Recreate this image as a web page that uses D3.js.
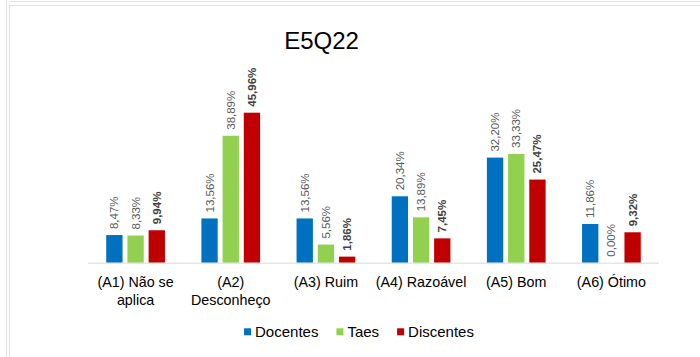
<!DOCTYPE html>
<html><head><meta charset="utf-8">
<script src="https://cdn.jsdelivr.net/npm/d3@7"></script>
<style>html,body{margin:0;padding:0;background:#fff;}svg{display:block;font-family:"Liberation Sans",Arial,sans-serif;}</style>
</head><body>
<svg id="chart" width="700" height="357"></svg>
<script>
const categories = ["(A1) Não se aplica","(A2) Desconheço","(A3) Ruim","(A4) Razoável","(A5) Bom","(A6) Ótimo"];
const categoryLines = [["(A1) Não se","aplica"],["(A2)","Desconheço"],["(A3) Ruim"],["(A4) Razoável"],["(A5) Bom"],["(A6) Ótimo"]];
const seriesNames = ["Docentes","Taes","Discentes"];
const docentes = [8.47,13.56,13.56,20.34,32.20,11.86];
const taes = [8.33,38.89,5.56,13.89,33.33,0.00];
const discentes = [9.94,45.96,1.86,7.45,25.47,9.32];
const seriesValues = [docentes, taes, discentes];
const colors = ["#0070C0","#92D050","#C00000"];
const title = "E5Q22";

const svg = d3.select("#chart");
svg.append("rect").attr("width",700).attr("height",357).attr("fill","#fff");

// frame lines
const fc = "#e3e3e3";
svg.append("line").attr("x1",9).attr("x2",700).attr("y1",1.5).attr("y2",1.5).attr("stroke",fc);
svg.append("line").attr("x1",10).attr("x2",700).attr("y1",5.5).attr("y2",5.5).attr("stroke",fc);
svg.append("line").attr("x1",6.5).attr("x2",6.5).attr("y1",0).attr("y2",357).attr("stroke",fc);
svg.append("line").attr("x1",9.5).attr("x2",9.5).attr("y1",5).attr("y2",357).attr("stroke",fc);

const x0 = d3.scaleBand().domain(categories).range([88,659]).padding(0);
const x1 = d3.scaleBand().domain(seriesNames).range([0,x0.bandwidth()]).paddingInner(0.23).paddingOuter(0.86);
const y = d3.scaleLinear().domain([0,50]).range([262.7,99.5]);

svg.append("text").attr("x",321.5).attr("y",49).attr("text-anchor","middle")
  .attr("font-size",24).attr("fill","#000").text(title);

const groups = svg.selectAll("g.cat").data(categories).enter().append("g")
  .attr("transform",d=>`translate(${x0(d)},0)`);

seriesNames.forEach((s,si)=>{
  groups.append("rect")
    .attr("x",x1(s)).attr("width",x1.bandwidth())
    .attr("y",(d,i)=>y(seriesValues[si][i]))
    .attr("height",(d,i)=>y(0)-y(seriesValues[si][i]))
    .attr("fill",colors[si]);
  groups.append("text")
    .attr("transform",(d,i)=>`translate(${x1(s)+x1.bandwidth()/2},${y(seriesValues[si][i])-6}) rotate(-90)`)
    .attr("dy","0.35em")
    .attr("font-size",11.5)
    .attr("font-weight", si===2 ? "bold" : "normal")
    .attr("fill", si===2 ? "#404040" : "#595959")
    .text((d,i)=>seriesValues[si][i].toFixed(2).replace(".",",")+"%");
});

// baseline
svg.append("line").attr("x1",88).attr("x2",659).attr("y1",y(0)+0.5).attr("y2",y(0)+0.5)
  .attr("stroke","#d9d9d9").attr("stroke-width",1);

// category labels
categories.forEach((c,i)=>{
  const t = svg.append("text").attr("x",x0(c)+x0.bandwidth()/2).attr("y",287)
    .attr("text-anchor","middle").attr("font-size",14.3).attr("fill","#000");
  categoryLines[i].forEach((ln,j)=>{
    t.append("tspan").attr("x",x0(c)+x0.bandwidth()/2).attr("dy",j===0?0:17.5).text(ln);
  });
});

// legend
const lg = svg.append("g");
let lx = 0;
seriesNames.forEach((s,si)=>{
  const g = lg.append("g").attr("transform",`translate(${lx},0)`);
  g.append("rect").attr("x",0).attr("y",-8.7).attr("width",7).attr("height",7).attr("fill",colors[si]);
  const t = g.append("text").attr("x",11).attr("y",0).attr("font-size",15).attr("fill","#000").text(s);
  lx += 11 + t.node().getComputedTextLength() + 18;
});
const lw = lx - 18;
lg.attr("transform",`translate(${359 - lw/2},337)`);
</script>
</body></html>
